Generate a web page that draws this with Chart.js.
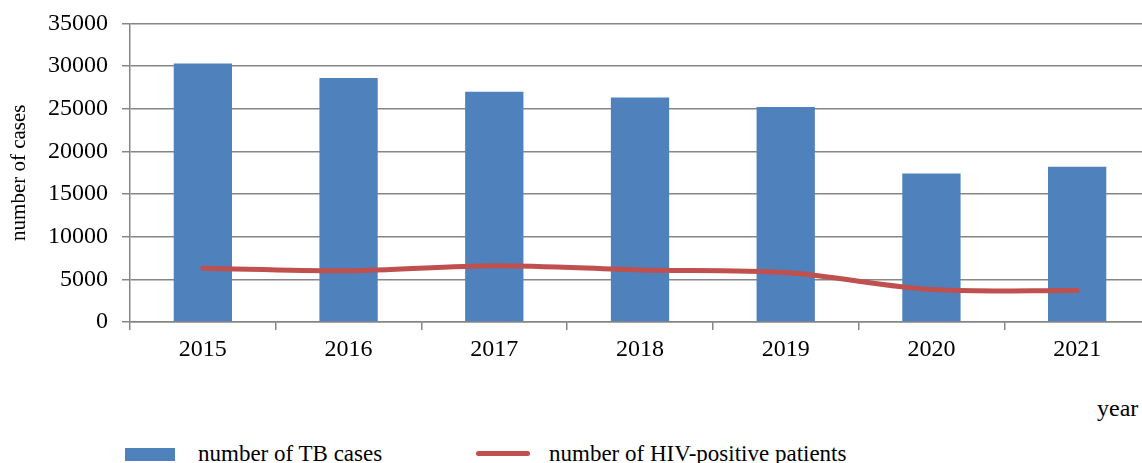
<!DOCTYPE html>
<html>
<head>
<meta charset="utf-8">
<script src="https://cdn.jsdelivr.net/npm/chart.js@4/dist/chart.umd.min.js"></script>
<style>
  body { margin: 0; width: 1142px; height: 463px; overflow: hidden; background: #fff; position: relative; font-family: "Liberation Serif", "Times New Roman", serif; }
  #wrap { position: absolute; left: 0; top: -5px; width: 1160px; height: 375px; }
  .lbl { position: absolute; font-size: 23px; color: #000; white-space: nowrap; line-height: 1; }
  .swatch { position: absolute; }
</style>
</head>
<body>
<div id="wrap"><canvas id="tbChart" width="1160" height="375"></canvas></div>
<div class="lbl" style="left:1097px; top:396px; font-size:24px;">year</div>
<div class="swatch" style="left:125px; top:448px; width:50px; height:13px; background:#4F81BD;"></div>
<div class="lbl" style="left:198px; top:442px;">number of TB cases</div>
<div class="swatch" style="left:476px; top:451px; width:54px; height:5px; border-radius:3px; background:#C0504D;"></div>
<div class="lbl" style="left:549px; top:442px;">number of HIV-positive patients</div>
<script>
const years = ["2015", "2016", "2017", "2018", "2019", "2020", "2021"];
const tbCases = [30300, 28600, 27000, 26300, 25200, 17400, 18200];
const hivPatients = [6300, 6000, 6600, 6100, 5800, 3800, 3700];
const yTicks = [0, 5000, 10000, 15000, 20000, 25000, 30000, 35000];

const font = { family: "'Liberation Serif', 'Times New Roman', serif", size: 24 };
const gridColor = "#868686";

const ctx = document.getElementById("tbChart").getContext("2d");
const chart = new Chart(ctx, {
  data: {
    labels: years,
    datasets: [
      {
        type: "line",
        label: "number of HIV-positive patients",
        data: hivPatients,
        borderColor: "#C0504D",
        backgroundColor: "#C0504D",
        borderWidth: 5,
        pointRadius: 0,
        tension: 0.3,
        borderCapStyle: "round",
        order: 0
      },
      {
        type: "bar",
        label: "number of TB cases",
        data: tbCases,
        backgroundColor: "#4F81BD",
        barPercentage: 0.4,
        categoryPercentage: 1,
        order: 1
      }
    ]
  },
  options: {
    responsive: false,
    animation: false,
    devicePixelRatio: 1,
    layout: { padding: { top: 6, right: 10, left: 0, bottom: 0 } },
    plugins: {
      legend: { display: false },
      tooltip: { enabled: false }
    },
    scales: {
      x: {
        offset: true,
        grid: { display: true, offset: true, drawOnChartArea: false, color: gridColor, lineWidth: 1.5, tickLength: 8 },
        border: { color: gridColor, width: 1.5 },
        ticks: { font: font, color: "#000", padding: 5, maxRotation: 0 },
        afterFit: s => { s.height = 48; }
      },
      y: {
        min: 0,
        max: 35000,
        afterBuildTicks: s => { s.ticks = yTicks.map(v => ({ value: v })); },
        grid: { color: gridColor, lineWidth: 1.5, tickLength: 8 },
        border: { color: gridColor, width: 1.5 },
        ticks: { font: font, color: "#000", padding: 14, callback: v => String(v) },
        title: { display: true, text: "number of cases", font: { family: font.family, size: 21 }, color: "#000", padding: { top: 7, bottom: 0 } },
        afterFit: s => { s.width = 130; }
      }
    }
  }
});
</script>
</body>
</html>
